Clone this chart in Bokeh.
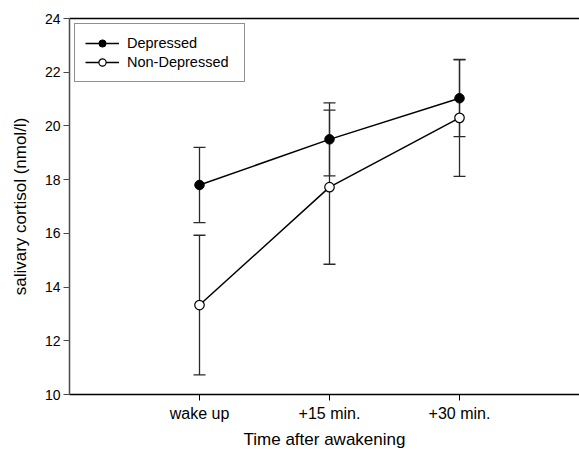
from bokeh.plotting import figure
from bokeh.models import ColumnDataSource, Whisker, Range1d, FixedTicker, LinearAxis, Legend, LegendItem
from bokeh.embed import file_html
from bokeh.resources import INLINE

categories = ["wake up", "+15 min.", "+30 min."]
cat_pos = [1, 2, 3]
dep_mean = [17.8, 19.5, 21.03]
dep_err = [1.4, 1.36, 1.43]
nondep_mean = [13.33, 17.72, 20.3]
nondep_err = [2.6, 2.87, 2.18]
y_ticks = [10, 12, 14, 16, 18, 20, 22, 24]

FONT = "Liberation Sans"

p = figure(width=579, height=451, output_backend="svg", toolbar_location=None,
           x_range=Range1d(0, 3.923), y_range=Range1d(10, 24),
           min_border_left=69, min_border_right=0, min_border_top=18, min_border_bottom=57)
p.grid.visible = False
p.outline_line_color = None
p.background_fill_color = "white"
p.border_fill_color = "white"

def mk(means, errs):
    return ColumnDataSource(dict(x=cat_pos, y=means,
                                 lo=[m - e for m, e in zip(means, errs)],
                                 hi=[m + e for m, e in zip(means, errs)]))

src_d = mk(dep_mean, dep_err)
src_n = mk(nondep_mean, nondep_err)

for src in (src_d, src_n):
    w = Whisker(source=src, base="x", lower="lo", upper="hi", line_color="#2a2a2a", line_width=1.3)
    for h in (w.upper_head, w.lower_head):
        h.size = 12
        h.line_color = "#2a2a2a"
        h.line_width = 1.3
    p.add_layout(w)

ld = p.line("x", "y", source=src_d, line_color="black", line_width=1.5)
sd = p.scatter("x", "y", source=src_d, size=9.5, fill_color="black", line_color="black")
ln = p.line("x", "y", source=src_n, line_color="black", line_width=1.5)
sn = p.scatter("x", "y", source=src_n, size=9.5, fill_color="white", line_color="black", line_width=1.2)

legend = Legend(items=[LegendItem(label="Depressed", renderers=[ld, sd]),
                       LegendItem(label="Non-Depressed", renderers=[ln, sn])],
                location="top_left")
legend.border_line_color = "#222222"
legend.border_line_width = 1
legend.label_text_font = FONT
legend.label_text_font_size = "14.5px"
legend.label_text_color = "black"
legend.glyph_width = 34
legend.glyph_height = 18
legend.label_height = 18
legend.label_width = 107
legend.spacing = 1
legend.padding = 10
legend.margin = 5
legend.label_standoff = 8
p.add_layout(legend, "center")

xa = p.xaxis[0]
xa.ticker = FixedTicker(ticks=cat_pos)
xa.major_label_overrides = {c: l for c, l in zip(cat_pos, categories)}
xa.axis_label = "Time after awakening"
ya = p.yaxis[0]
ya.ticker = FixedTicker(ticks=y_ticks)
ya.axis_label = "salivary cortisol (nmol/l)"
for ax in (xa, ya):
    ax.axis_line_width = 1.5
    ax.major_tick_out = 6
    ax.major_tick_in = 0
    ax.minor_tick_line_color = None
    ax.major_label_text_font = FONT
    ax.major_label_text_color = "black"
    ax.axis_label_text_font = FONT
    ax.axis_label_text_font_size = "17px"
    ax.axis_label_text_font_style = "normal"
    ax.axis_label_text_color = "black"
xa.axis_line_color = "black"
xa.major_tick_line_color = "black"
ya.axis_line_color = "#4a4a4a"
ya.major_tick_line_color = "#4a4a4a"
xa.major_label_text_font_size = "16px"
ya.major_label_text_font_size = "14px"
xa.major_label_standoff = 4
xa.axis_label_standoff = 5
ya.major_label_standoff = 3
ya.axis_label_standoff = 12

top = LinearAxis(ticker=FixedTicker(ticks=[]), axis_line_color="black", axis_line_width=1.5,
                 major_tick_line_color=None, minor_tick_line_color=None,
                 major_label_text_font_size="0px")
p.add_layout(top, "above")

open("out.html", "w").write(file_html(p, INLINE))
